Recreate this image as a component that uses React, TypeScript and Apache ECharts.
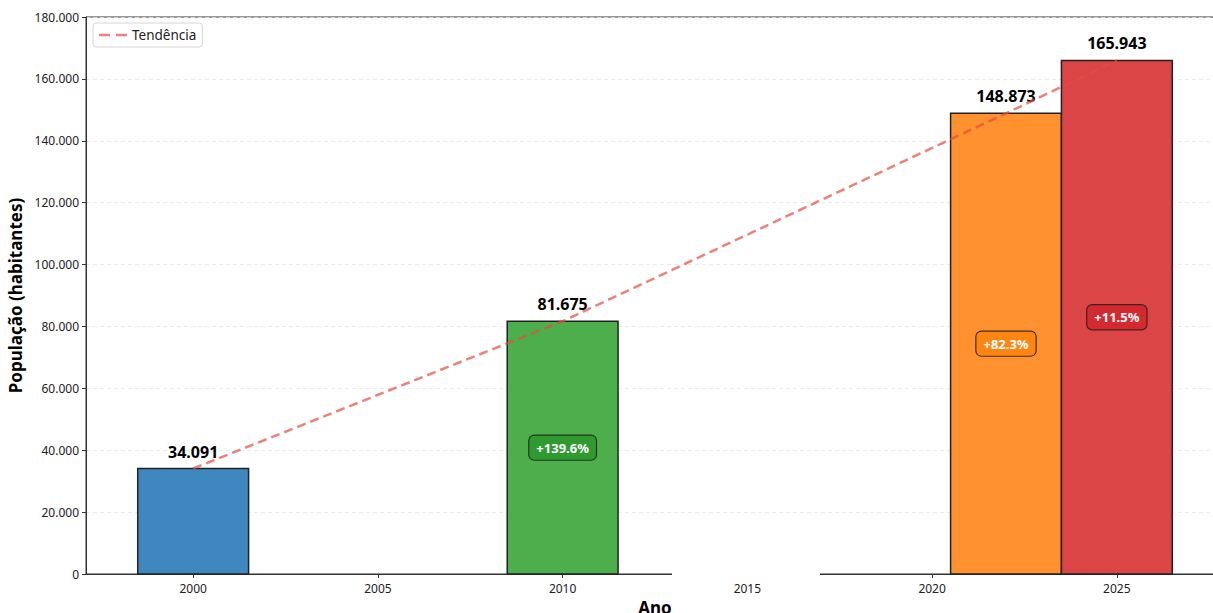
import React, { useEffect, useRef } from "react";
import * as echarts from "echarts";

const years = [2000, 2010, 2022, 2025];
const population = [34091, 81675, 148873, 165943];
const growthLabels = ["", "+139.6%", "+82.3%", "+11.5%"];
const barColors = ["#3f88bf", "#4caf4c", "#ff912e", "#db4546"];
const badgeColors = ["#1f77b4", "#2f9a2f", "#ff8512", "#d42a2f"];
const xTicks = [2000, 2005, 2010, 2015, 2020, 2025];
const trendName = "Tendência";
const barHalfWidth = 1.5;

const fmt = (v: number) => String(v).replace(/\B(?=(\d{3})+(?!\d))/g, ".");
const FONT = "'Noto Sans', 'DejaVu Sans', sans-serif";

export default function App() {
  const ref = useRef<HTMLDivElement>(null);
  useEffect(() => {
    const chart = echarts.init(ref.current!, null, { renderer: "svg" });
    const barData = years.map((y, i) => [y, population[i]]);
    chart.setOption({
      animation: false,
      textStyle: { fontFamily: FONT },
      grid: {
        left: 86,
        top: 17,
        width: 1138,
        height: 557,
        show: true,
        borderColor: "#333",
        borderWidth: 1,
        containLabel: false,
        outerBoundsMode: "none",
      },
      legend: {
        data: [{ name: trendName, icon: "path://M0,0H11V2.6H0Z M17,0H28V2.6H17Z" }],
        left: 93,
        top: 23,
        orient: "vertical",
        backgroundColor: "#fff",
        borderColor: "#d5d5d5",
        borderWidth: 1,
        borderRadius: 3,
        padding: [5, 6, 5, 6],
        itemWidth: 28,
        itemHeight: 2.6,
        itemGap: 8,
        textStyle: { fontSize: 13.5, color: "#222", fontFamily: FONT },
      },
      xAxis: {
        type: "value",
        min: 1997.1,
        max: 2027.9,
        name: "Ano",
        nameLocation: "middle",
        nameGap: 23,
        nameTextStyle: { fontSize: 17, fontWeight: "bold", color: "#000", fontFamily: FONT },
        axisLine: { show: true, onZero: false, lineStyle: { color: "#333", width: 1 } },
        axisTick: { show: true, length: 4, customValues: xTicks, lineStyle: { color: "#333" } },
        axisLabel: { customValues: xTicks, margin: 8, fontSize: 12, color: "#222", hideOverlap: false, formatter: (v: number) => String(v) },
        splitLine: { show: false },
      },
      yAxis: {
        type: "value",
        min: 0,
        max: 180000,
        interval: 20000,
        name: "População (habitantes)",
        nameLocation: "middle",
        nameGap: 62,
        nameTextStyle: { fontSize: 17, fontWeight: "bold", color: "#000", fontFamily: FONT },
        axisLine: { show: true, lineStyle: { color: "#333", width: 1 } },
        axisTick: { show: true, length: 4, lineStyle: { color: "#333" } },
        axisLabel: { margin: 7, fontSize: 12, color: "#222", formatter: (v: number) => fmt(v) },
        splitLine: { show: true, lineStyle: { color: "#e6e6e6", type: [4, 3], width: 0.8 } },
      },
      series: [
        {
          type: "custom",
          name: "bars",
          z: 2,
          data: barData,
          renderItem: (params: any, api: any) => {
            const x = api.value(0);
            const y = api.value(1);
            const i = params.dataIndex;
            const p0 = api.coord([x - barHalfWidth, y]);
            const p1 = api.coord([x + barHalfWidth, 0]);
            const cx = (p0[0] + p1[0]) / 2;
            const mid = api.coord([x, y / 2]);
            const children: any[] = [
              {
                type: "rect",
                shape: { x: p0[0], y: p0[1], width: p1[0] - p0[0], height: p1[1] - p0[1] },
                style: { fill: barColors[i], stroke: "#222", lineWidth: 1.5 },
              },
              {
                type: "text",
                x: cx,
                y: p0[1] - 9,
                style: {
                  text: fmt(y),
                  align: "center",
                  verticalAlign: "bottom",
                  font: `bold 16px ${FONT}`,
                  fill: "#000",
                },
              },
            ];
            if (growthLabels[i]) {
              children.push({
                type: "text",
                x: cx,
                y: mid[1],
                style: {
                  text: growthLabels[i],
                  align: "center",
                  verticalAlign: "middle",
                  font: `bold 13px ${FONT}`,
                  fill: "#fff",
                  backgroundColor: badgeColors[i],
                  borderColor: "rgba(30,30,30,0.85)",
                  borderWidth: 1.2,
                  borderRadius: 5,
                  padding: [6, 7, 5, 7],
                },
              });
            }
            return { type: "group", children };
          },
        },
        {
          type: "line",
          name: trendName,
          z: 5,
          data: barData,
          symbol: "none",
          lineStyle: { color: "rgba(231,76,60,0.7)", width: 2.5, type: [9, 5] },
          itemStyle: { color: "rgba(231,76,60,0.7)" },
        },
      ],
      graphic: [
        {
          type: "rect",
          z: 100,
          shape: { x: 672, y: 570, width: 148, height: 10 },
          style: { fill: "#fff" },
        },
      ],
    });
    return () => chart.dispose();
  }, []);
  return <div ref={ref} style={{ position: "absolute", left: 0, top: 0, width: 1213, height: 613 }} />;
}
